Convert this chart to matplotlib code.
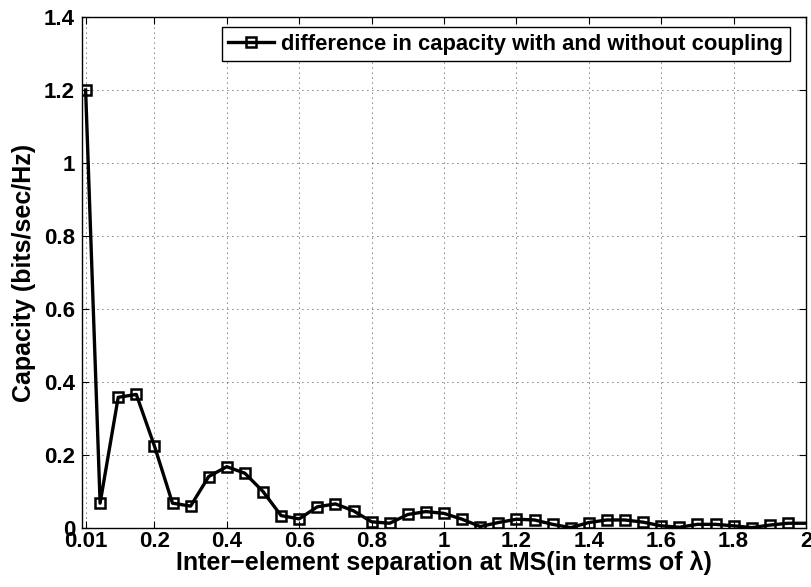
import matplotlib
matplotlib.use("Agg")
import matplotlib.pyplot as plt

plt.rcParams['font.family'] = ['Liberation Sans', 'DejaVu Sans']

# Antenna element spacing (in wavelengths) and capacity loss due to mutual coupling
separation = [0.01, 0.05, 0.10, 0.15, 0.20, 0.25, 0.30, 0.35, 0.40, 0.45,
              0.50, 0.55, 0.60, 0.65, 0.70, 0.75, 0.80, 0.85, 0.90, 0.95,
              1.00, 1.05, 1.10, 1.15, 1.20, 1.25, 1.30, 1.35, 1.40, 1.45,
              1.50, 1.55, 1.60, 1.65, 1.70, 1.75, 1.80, 1.85, 1.90, 1.95, 2.00]
capacity_diff = [1.20, 0.068, 0.358, 0.366, 0.225, 0.068, 0.060, 0.141, 0.168, 0.150,
                 0.100, 0.034, 0.025, 0.058, 0.066, 0.047, 0.017, 0.013, 0.037, 0.045,
                 0.040, 0.024, 0.004, 0.015, 0.024, 0.022, 0.010, 0.001, 0.015, 0.022,
                 0.022, 0.016, 0.006, 0.002, 0.010, 0.010, 0.006, 0.001, 0.008, 0.013, 0.013]

xticks = [0.01, 0.2, 0.4, 0.6, 0.8, 1.0, 1.2, 1.4, 1.6, 1.8, 2.0]
xtick_labels = ['0.01', '0.2', '0.4', '0.6', '0.8', '1', '1.2', '1.4', '1.6', '1.8', '2']
yticks = [0, 0.2, 0.4, 0.6, 0.8, 1.0, 1.2, 1.4]
ytick_labels = ['0', '0.2', '0.4', '0.6', '0.8', '1', '1.2', '1.4']

W, H = 811, 587
L, R, T, B = 82, 806, 17, 528

fig = plt.figure(figsize=(W / 100, H / 100), dpi=100)
ax = fig.add_axes([L / W, 1 - B / H, (R - L) / W, (B - T) / H])

ax.plot(separation, capacity_diff, color='black', linewidth=2.4,
        marker='s', markersize=7.5, markerfacecolor='none', markeredgewidth=1.8,
        markevery=list(range(len(separation) - 1)),
        label='difference in capacity with and without coupling', zorder=3)

ax.set_xlim(0, 2)
ax.set_ylim(0, 1.4)
ax.set_xticks(xticks)
ax.set_xticklabels(xtick_labels)
ax.set_yticks(yticks)
ax.set_yticklabels(ytick_labels)

ax.grid(True, linestyle=(0, (1, 5)), color='black', linewidth=0.6)
ax.tick_params(direction='in', top=True, right=True, length=5, width=0.8,
               labelsize=16, pad=2)
ax.tick_params(axis='y', pad=5)
for lbl in ax.get_xticklabels() + ax.get_yticklabels():
    lbl.set_fontweight('bold')
for sp in ax.spines.values():
    sp.set_linewidth(1.0)

ax.set_xlabel('Inter\u2212element separation at MS(in terms of \u03bb)',
              fontsize=18, fontweight='bold', labelpad=-1)
ax.set_ylabel('Capacity (bits/sec/Hz)', fontsize=18, fontweight='bold', labelpad=6)

leg = ax.legend(loc='upper right',
                bbox_to_anchor=((790 - L) / (R - L), 1 - (27 - T) / (B - T)),
                bbox_transform=ax.transAxes, borderaxespad=0,
                prop={'weight': 'bold', 'size': 15.8},
                frameon=True, fancybox=False, edgecolor='black', framealpha=1,
                handlelength=2.1, handletextpad=0.32, borderpad=0.3)
leg.get_frame().set_linewidth(1.0)

fig.savefig('out.png', dpi=100)
